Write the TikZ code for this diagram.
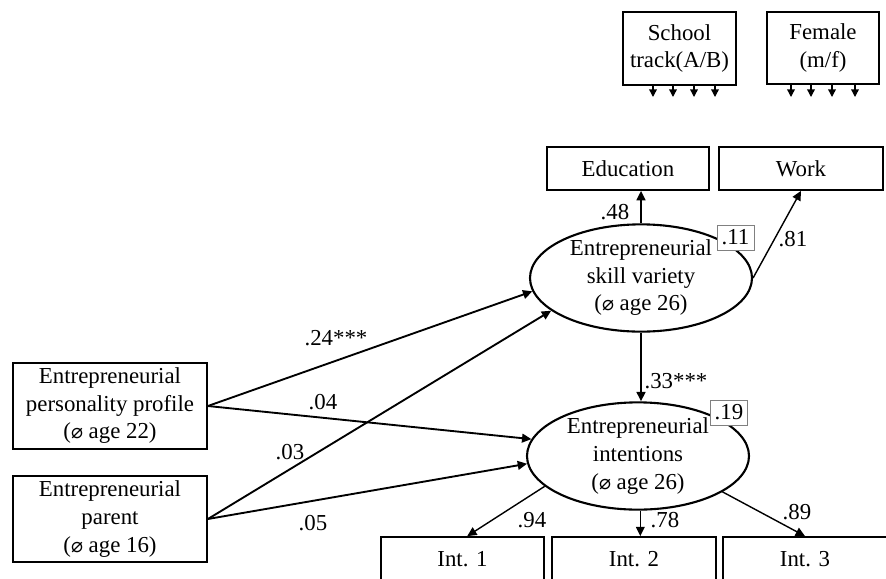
\documentclass[tikz,border=0pt]{standalone}
\usepackage{fontspec}
\setmainfont{Liberation Serif}
\newfontfamily\dvfont{DejaVu Sans}
\usetikzlibrary{arrows.meta,shapes.geometric}
\newcommand{\dia}{{\dvfont\fontsize{17}{17}\selectfont ⌀}}
\begin{document}
\begin{tikzpicture}[x=0.03cm,y=-0.03cm,
  every node/.style={font=\fontsize{19.5}{23.5}\selectfont, inner sep=0pt},
  box/.style={draw, line width=1.5pt, align=center},
  latent/.style={draw, ellipse, line width=1.8pt, align=center, minimum width=6.66cm, minimum height=3cm},
  rsq/.style={draw=gray, line width=0.6pt, fill=white, minimum width=1.11cm, minimum height=0.75cm},
  path/.style={line width=1.6pt, -{Triangle[length=8pt,width=7.5pt]}},
  load/.style={line width=1.2pt, -{Triangle[length=8pt,width=7.5pt]}},
  tick/.style={line width=1.2pt, -{Triangle[length=6.5pt,width=6.5pt]}},
  lbl/.style={}
]
\useasboundingbox (0,0) rectangle (886,578);
\fill[white] (0,0) rectangle (886,578);

% covariate boxes
\node[box, minimum width=3.39cm, minimum height=2.19cm] (school) at (679.5,48.5) {School\\track(A/B)};
\node[box, minimum width=3.36cm, minimum height=2.16cm] (female) at (823,48) {Female\\(m/f)};
\foreach \x [count=\i] in {653,673,694,715} {
  \coordinate (sa\i) at (\x,84);
  \coordinate (sb\i) at (\x,97);
  \draw[tick] (sa\i) -- (sb\i);
}
\foreach \x [count=\i] in {791,811,832,855} {
  \coordinate (fa\i) at (\x,84);
  \coordinate (fb\i) at (\x,97);
  \draw[tick] (fa\i) -- (fb\i);
}

% indicators
\node[box, minimum width=4.86cm, minimum height=1.29cm] (edu) at (628,168.5) {Education};
\node[box, minimum width=4.92cm, minimum height=1.29cm] (work) at (801,168.5) {Work};

% latent variables
\node[latent] (skill) at (641,278) {Entrepreneurial\\skill variety\\(\dia{} age 26)};
\node[latent] (intent) at (638,456) {Entrepreneurial\\intentions\\(\dia{} age 26)};
\node[rsq] (r11) at (735.5,237.5) {.11};
\node[rsq] (r19) at (729,412.5) {.19};

% predictors
\node[box, minimum width=5.82cm, minimum height=2.58cm] (pers) at (110,406) {Entrepreneurial\\personality profile\\(\dia{} age 22)};
\node[box, minimum width=5.82cm, minimum height=2.58cm] (par) at (110,519) {Entrepreneurial\\parent\\(\dia{} age 16)};

% intention indicators
\node[box, minimum width=4.89cm, minimum height=1.35cm] (i1) at (462.5,559.5) {\raisebox{-0.25cm}{Int. 1}};
\node[box, minimum width=4.92cm, minimum height=1.35cm] (i2) at (634,559.5) {\raisebox{-0.25cm}{Int. 2}};
\node[box, minimum width=4.92cm, minimum height=1.35cm] (i3) at (805,559.5) {\raisebox{-0.25cm}{Int. 3}};

% structural paths
\draw[path] (pers.east) -- (skill.187);
\draw[path] (pers.east) -- (intent.171);
\draw[path] (par.east) -- (skill.200);
\draw[path] (par.east) -- (intent.184);
\draw[path] (skill.south) -- (skill.south |- intent.north);

% loadings
\draw[path] (skill.north) -- (skill.north |- edu.south);
\draw[load] (skill.east) -- (work.south);
\draw[load] (intent.198) -- ([xshift=4]i1.north);
\draw[load] ([xshift=2]intent.south) -- ([xshift=2]intent.south |- i2.north);
\draw[load] (intent.-23) -- (i3.north);

% labels
\node[lbl] (l48) at (615,212) {.48};
\node[lbl] (l81) at (793,239) {.81};
\node[lbl] (l24) at (336,338) {.24***};
\node[lbl] (l04) at (323,402) {.04};
\node[lbl] (l03) at (290,452) {.03};
\node[lbl] (l05) at (313,523) {.05};
\node[lbl] (l33) at (676,381) {.33***};
\node[lbl] (l94) at (532,520) {.94};
\node[lbl] (l78) at (665,520) {.78};
\node[lbl] (l89) at (797,512) {.89};
\end{tikzpicture}
\end{document}
